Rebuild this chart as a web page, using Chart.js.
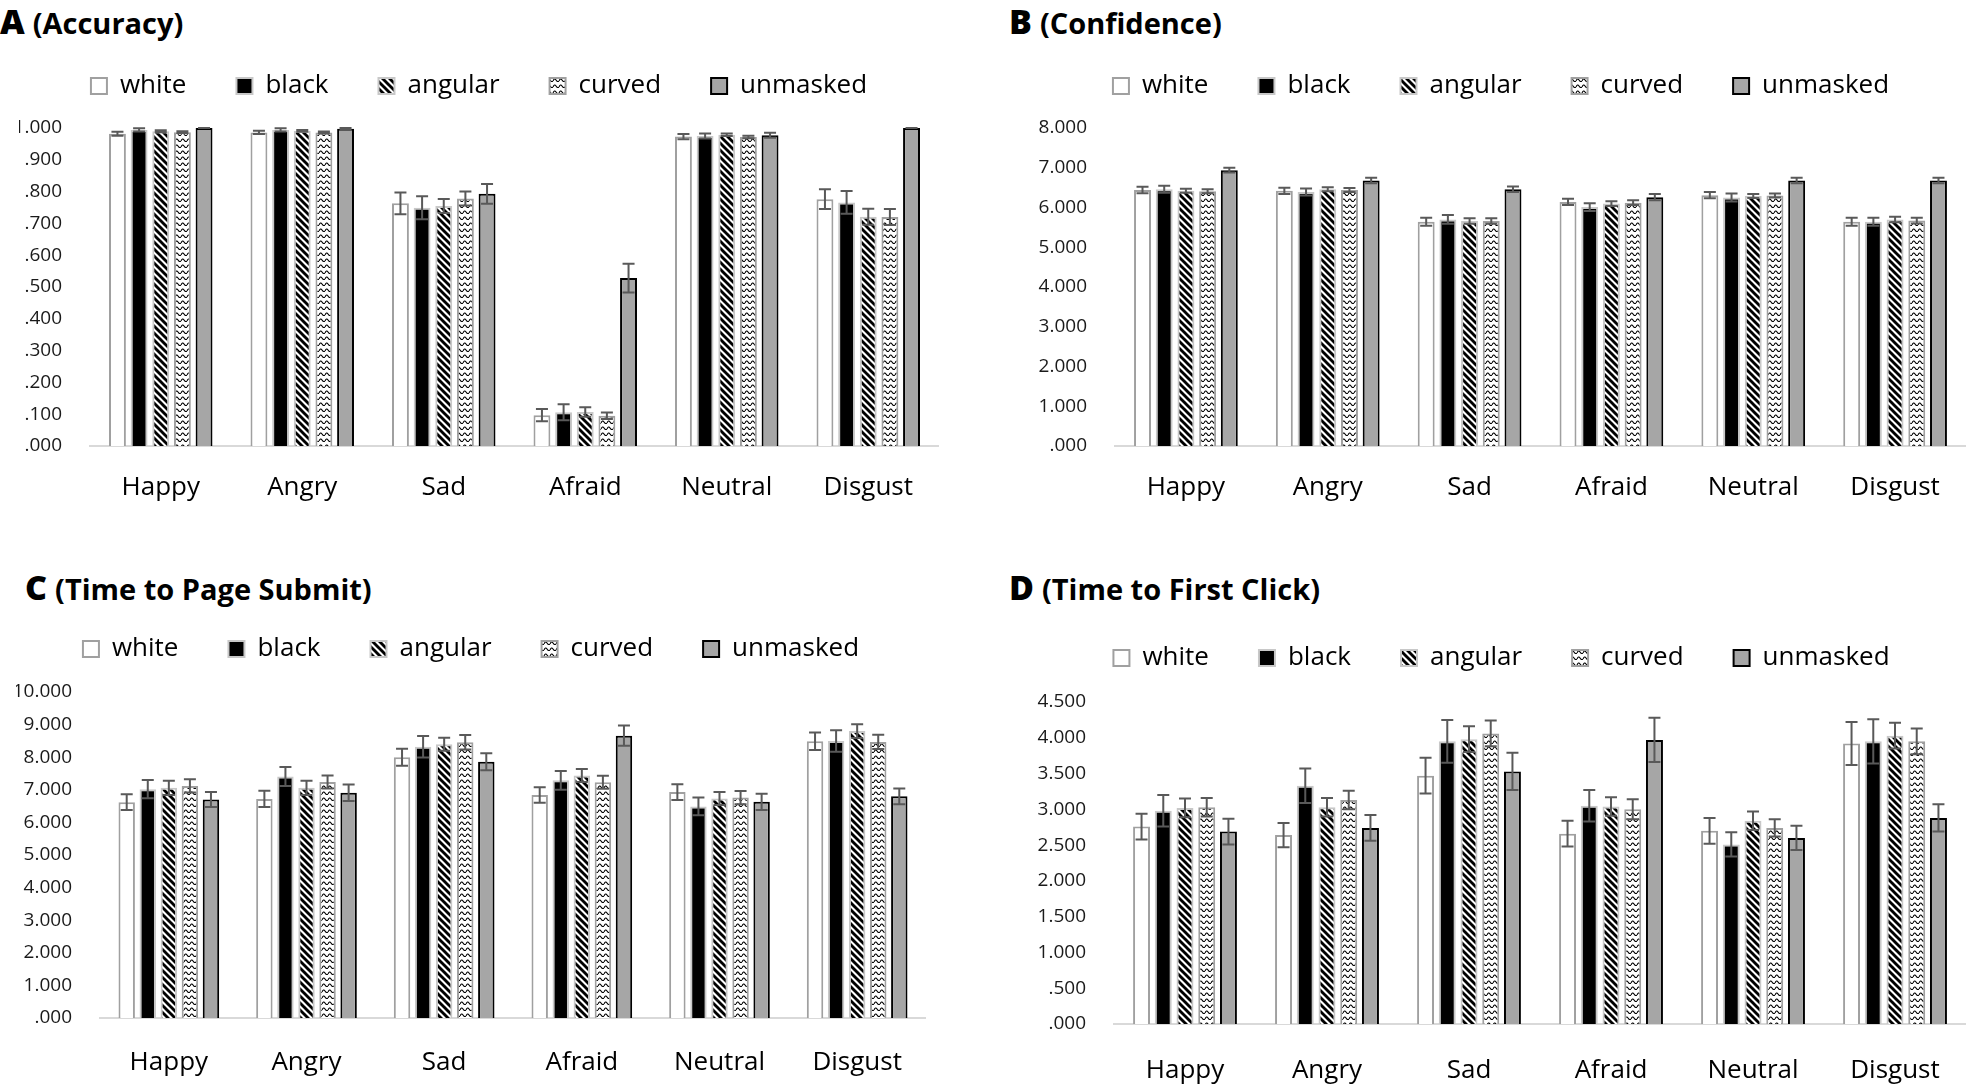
<!DOCTYPE html>
<html>
<head>
<meta charset="utf-8">
<script src="https://cdn.jsdelivr.net/npm/chart.js@4.4.1/dist/chart.umd.min.js"></script>
<style>
  body { margin: 0; background: #fff; width: 1966px; height: 1084px; position: relative; overflow: hidden; font-family: 'Open Sans', sans-serif; }
  .box { position: absolute; }
  .ttl { position: absolute; font-weight: bold; color: #000; white-space: nowrap; line-height: 1; }
  .ttl b { font-size: 34px; margin-right: 8px; }
  .ttl span { font-size: 29px; }
</style>
</head>
<body>
<div class="ttl" style="left:0px;top:4px"><b>A</b><span>(Accuracy)</span></div>
<div class="ttl" style="left:1009px;top:4px"><b>B</b><span>(Confidence)</span></div>
<div class="ttl" style="left:25px;top:570px"><b>C</b><span>(Time to Page Submit)</span></div>
<div class="ttl" style="left:1009px;top:570px"><b>D</b><span>(Time to First Click)</span></div>

<div class="box" style="left:19px;top:23px"><canvas id="cA" width="920" height="493"></canvas></div>
<div class="box" style="left:1036px;top:23px"><canvas id="cB" width="930" height="493"></canvas></div>
<div class="box" style="left:16px;top:586px"><canvas id="cC" width="910" height="498"></canvas></div>
<div class="box" style="left:1037px;top:595px"><canvas id="cD" width="929" height="489"></canvas></div>

<script>
var emotions   = ['Happy', 'Angry', 'Sad', 'Afraid', 'Neutral', 'Disgust'];
var conditions = ['white', 'black', 'angular', 'curved', 'unmasked'];

// A - accuracy
var accWhite    = [0.982, 0.986, 0.763, 0.097, 0.973, 0.776];
var accBlack    = [0.994, 0.994, 0.749, 0.106, 0.975, 0.766];
var accAngular  = [0.990, 0.991, 0.755, 0.107, 0.979, 0.721];
var accCurved   = [0.987, 0.986, 0.778, 0.095, 0.972, 0.720];
var accUnmasked = [1.000, 0.998, 0.793, 0.528, 0.977, 1.000];
var accWhiteErr    = [0.006, 0.005, 0.034, 0.019, 0.008, 0.031];
var accBlackErr    = [0.005, 0.005, 0.036, 0.025, 0.008, 0.036];
var accAngularErr  = [0.003, 0.003, 0.022, 0.015, 0.004, 0.025];
var accCurvedErr   = [0.003, 0.003, 0.022, 0.010, 0.004, 0.025];
var accUnmaskedErr = [0.000, 0.002, 0.031, 0.045, 0.008, 0.000];

// B - confidence
var confWhite    = [6.44, 6.42, 5.64, 6.14, 6.31, 5.64];
var confBlack    = [6.46, 6.39, 5.70, 6.01, 6.25, 5.64];
var confAngular  = [6.42, 6.46, 5.66, 6.10, 6.29, 5.70];
var confCurved   = [6.41, 6.44, 5.66, 6.12, 6.30, 5.67];
var confUnmasked = [6.94, 6.68, 6.46, 6.26, 6.68, 6.68];
var confWhiteErr    = [0.08, 0.08, 0.10, 0.08, 0.08, 0.10];
var confBlackErr    = [0.09, 0.09, 0.11, 0.10, 0.10, 0.10];
var confAngularErr  = [0.05, 0.05, 0.07, 0.06, 0.05, 0.07];
var confCurvedErr   = [0.05, 0.05, 0.07, 0.06, 0.05, 0.07];
var confUnmaskedErr = [0.06, 0.07, 0.07, 0.08, 0.07, 0.07];

// C - time to page submit
var subWhite    = [6.62, 6.72, 8.00, 6.84, 6.93, 8.49];
var subBlack    = [7.02, 7.41, 8.32, 7.29, 6.49, 8.50];
var subAngular  = [7.06, 7.06, 8.40, 7.44, 6.73, 8.80];
var subCurved   = [7.12, 7.24, 8.46, 7.23, 6.76, 8.47];
var subUnmasked = [6.70, 6.91, 7.86, 8.66, 6.63, 6.80];
var subWhiteErr    = [0.24, 0.25, 0.26, 0.24, 0.24, 0.27];
var subBlackErr    = [0.28, 0.29, 0.33, 0.29, 0.27, 0.33];
var subAngularErr  = [0.22, 0.22, 0.20, 0.20, 0.20, 0.21];
var subCurvedErr   = [0.20, 0.20, 0.22, 0.20, 0.20, 0.22];
var subUnmaskedErr = [0.23, 0.25, 0.26, 0.31, 0.25, 0.24];

// D - time to first click
var clkWhite    = [2.76, 2.64, 3.47, 2.66, 2.70, 3.92];
var clkBlack    = [2.98, 3.33, 3.95, 3.05, 2.51, 3.95];
var clkAngular  = [3.02, 3.03, 3.98, 3.04, 2.84, 4.03];
var clkCurved   = [3.03, 3.13, 4.06, 3.00, 2.74, 3.95];
var clkUnmasked = [2.69, 2.74, 3.53, 3.97, 2.60, 2.88];
var clkWhiteErr    = [0.18, 0.17, 0.25, 0.18, 0.18, 0.30];
var clkBlackErr    = [0.22, 0.24, 0.30, 0.22, 0.17, 0.31];
var clkAngularErr  = [0.13, 0.13, 0.18, 0.13, 0.13, 0.18];
var clkCurvedErr   = [0.13, 0.13, 0.18, 0.14, 0.12, 0.18];
var clkUnmaskedErr = [0.18, 0.18, 0.26, 0.31, 0.17, 0.19];

Chart.defaults.font.family = "'Open Sans', sans-serif";
Chart.defaults.color = '#000';

function stripes() {
  var c = document.createElement('canvas'); c.width = 7; c.height = 7;
  var g = c.getContext('2d');
  g.fillStyle = '#fff'; g.fillRect(0, 0, 7, 7);
  g.strokeStyle = '#000'; g.lineWidth = 2.9;
  for (var k = -1; k <= 1; k++) {
    g.beginPath(); g.moveTo(k * 7 - 1, -1); g.lineTo(k * 7 + 8, 8); g.stroke();
  }
  return g.createPattern(c, 'repeat');
}
function waves() {
  var c = document.createElement('canvas'); c.width = 6; c.height = 6;
  var g = c.getContext('2d');
  g.fillStyle = '#fff'; g.fillRect(0, 0, 6, 6);
  g.strokeStyle = '#000'; g.lineWidth = 1.1;
  g.beginPath(); g.moveTo(0, 4);
  g.quadraticCurveTo(1.5, 0.5, 3, 3);
  g.quadraticCurveTo(4.5, 5.5, 6, 4);
  g.stroke();
  return g.createPattern(c, 'repeat');
}

var fills   = ['#ffffff', '#000000', stripes(), waves(), '#a6a6a6'];
var borders = ['#a0a0a0', '#c8c8c8', '#c8c8c8', '#a0a0a0', '#000000'];

var errorBars = {
  id: 'errorBars',
  afterDatasetsDraw: function (chart) {
    var ctx = chart.ctx, y = chart.scales.y;
    ctx.save();
    ctx.strokeStyle = '#595959';
    ctx.lineWidth = 2;
    chart.data.datasets.forEach(function (ds, i) {
      chart.getDatasetMeta(i).data.forEach(function (bar, j) {
        var e = ds.errors[j];
        var top = y.getPixelForValue(ds.data[j] + e), bot = y.getPixelForValue(ds.data[j] - e);
        ctx.beginPath();
        ctx.moveTo(bar.x, top); ctx.lineTo(bar.x, bot);
        ctx.moveTo(bar.x - 6, top); ctx.lineTo(bar.x + 6, top);
        ctx.moveTo(bar.x - 6, bot); ctx.lineTo(bar.x + 6, bot);
        ctx.stroke();
      });
    });
    ctx.restore();
  }
};

var legendBox = {
  id: 'legendBox',
  beforeInit: function (chart, args, opts) {
    var fit = chart.legend.fit;
    chart.legend.fit = function () { fit.call(this); this.height = opts.height; };
  }
};

function fmt(v) {
  var s = Number(v).toFixed(3);
  return s.charAt(0) === '0' ? s.slice(1) : s;
}

function makeChart(id, vals, errs, yMax, step, yw, legendH, xh, xpad) {
  var sets = conditions.map(function (c, i) {
    return {
      label: c, data: vals[i], errors: errs[i],
      backgroundColor: fills[i], borderColor: borders[i], borderWidth: 2
    };
  });
  new Chart(document.getElementById(id), {
    type: 'bar',
    data: { labels: emotions, datasets: sets },
    plugins: [errorBars, legendBox],
    options: {
      responsive: false,
      animation: false,
      datasets: { bar: { categoryPercentage: 0.765, barPercentage: 0.78 } },
      plugins: {
        legendBox: { height: legendH },
        tooltip: { enabled: false },
        legend: {
          labels: { boxWidth: 16, boxHeight: 16, padding: 50, font: { size: 26 }, color: '#000' }
        }
      },
      scales: {
        x: {
          grid: { display: false },
          border: { display: true, color: '#d9d9d9', width: 2 },
          ticks: { font: { size: 26 }, color: '#000', padding: xpad, maxRotation: 0 },
          afterFit: function (s) { s.height = xh; }
        },
        y: {
          min: 0, max: yMax,
          grid: { display: false },
          border: { display: false },
          ticks: { stepSize: step, font: { size: 19 }, color: '#1a1a1a', padding: 20, callback: fmt },
          afterFit: function (s) { s.width = yw; }
        }
      }
    }
  });
}

makeChart('cA',
  [accWhite, accBlack, accAngular, accCurved, accUnmasked],
  [accWhiteErr, accBlackErr, accAngularErr, accCurvedErr, accUnmaskedErr],
  1, 0.1, 71, 105, 70, 18);
makeChart('cB',
  [confWhite, confBlack, confAngular, confCurved, confUnmasked],
  [confWhiteErr, confBlackErr, confAngularErr, confCurvedErr, confUnmaskedErr],
  8, 1, 79, 105, 70, 18);
makeChart('cC',
  [subWhite, subBlack, subAngular, subCurved, subUnmasked],
  [subWhiteErr, subBlackErr, subAngularErr, subCurvedErr, subUnmaskedErr],
  10, 1, 84, 106, 66, 21);
makeChart('cD',
  [clkWhite, clkBlack, clkAngular, clkCurved, clkUnmasked],
  [clkWhiteErr, clkBlackErr, clkAngularErr, clkCurvedErr, clkUnmaskedErr],
  4.5, 0.5, 77, 107, 60, 23);
</script>
</body>
</html>
